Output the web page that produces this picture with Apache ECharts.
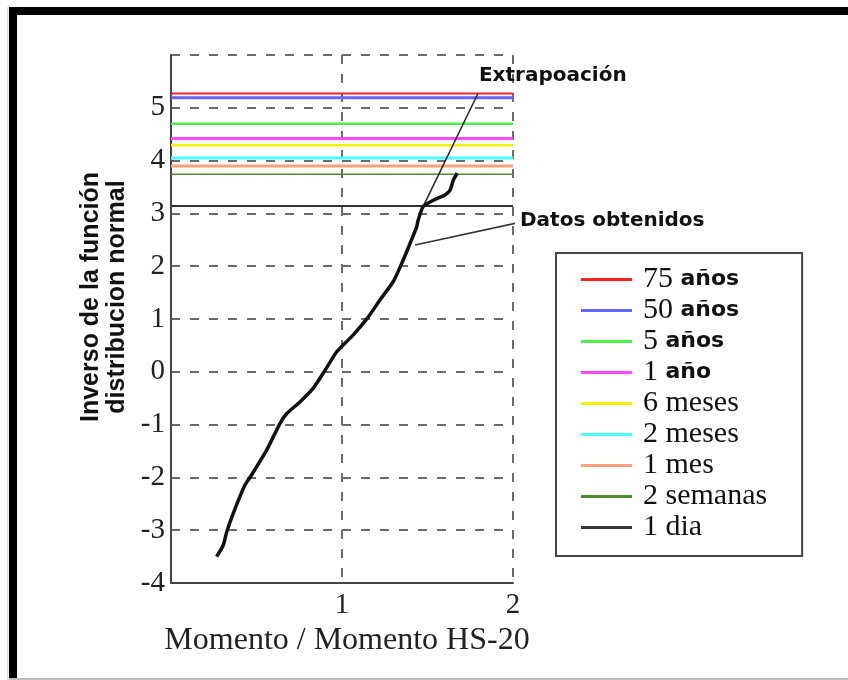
<!DOCTYPE html>
<html><head><meta charset="utf-8">
<script src="https://cdn.jsdelivr.net/npm/echarts@6/dist/echarts.min.js"></script>
<style>html,body{margin:0;padding:0;background:#fff}#c{width:848px;height:680px}</style>
</head><body><div id="c"></div>
<script>
// Horizontal return-period levels
const levelNames  = ['75 años','50 años','5 años','1 año','6 meses','2 meses','1 mes','2 semanas','1 dia'];
const levelValues = [5.27, 5.19, 4.70, 4.42, 4.29, 4.05, 3.90, 3.74, 3.14];
const levelColors = ['#ff2020','#6464ff','#4ced4c','#ff48ff','#f2f200','#48ffff','#ffa07a','#4f8a32','#333333'];
const levelWidths = [2, 3, 2.5, 3, 2.5, 3, 3, 1.5, 2];
const levelSpan   = [0, 2];

// Measured data (Momento / Momento HS-20 vs inverse normal)
const curveX = [0.267,0.306,0.326,0.364,0.433,0.472,0.560,0.637,0.677,0.754,0.832,0.901,0.969,1.066,1.154,1.222,1.300,1.349,1.398,1.437,1.446,1.475,1.534,1.602,1.632,1.651,1.674];
const curveY = [-3.50,-3.28,-3.03,-2.68,-2.14,-1.95,-1.48,-0.98,-0.79,-0.57,-0.31,0.03,0.38,0.70,1.04,1.36,1.71,2.05,2.43,2.75,2.88,3.13,3.25,3.35,3.44,3.63,3.76];

// Extrapolation line
const extrapX = [1.47, 1.795];
const extrapY = [3.10, 5.27];

// Annotation pointer to the data
const pointerX = [1.427, 2.372];
const pointerY = [2.40, 3.064];

const xMin = 0, xMax = 2, xStep = 1;
const yMin = -4, yMax = 6, yStep = 1;

const zip = (a, b) => a.map((v, i) => [v, b[i]]);

const serif = '"Liberation Serif", "Times New Roman", serif';
const sansBold = '"DejaVu Sans", sans-serif';

const series = levelNames.map((n, i) => ({
  name: n, type: 'line', showSymbol: false, silent: true, z: 3,
  color: levelColors[i],
  itemStyle: { color: levelColors[i] },
  lineStyle: { color: levelColors[i], width: levelWidths[i] },
  data: levelSpan.map(x => [x, levelValues[i]])
}));
series.push({
  name: 'Datos', type: 'line', showSymbol: false, silent: true, z: 5, smooth: 0.2,
  lineStyle: { color: '#111', width: 3.5 }, itemStyle: { color: '#111' },
  data: zip(curveX, curveY)
});
series.push({
  name: 'Extrapolación', type: 'line', showSymbol: false, silent: true, z: 4, clip: false,
  lineStyle: { color: '#222', width: 1.5 }, itemStyle: { color: '#222' },
  data: zip(extrapX, extrapY),
  endLabel: { show: true, formatter: 'Extrapoación', distance: 1, offset: [0, -18],
    fontFamily: sansBold, fontWeight: 'bold', fontSize: 20, color: '#111' }
});
series.push({
  name: 'Puntero', type: 'line', showSymbol: false, silent: true, z: 4, clip: false,
  lineStyle: { color: '#333', width: 1.5 }, itemStyle: { color: '#333' },
  data: zip(pointerX, pointerY),
  endLabel: { show: true, formatter: 'Datos obtenidos', distance: 5, offset: [0, -3],
    fontFamily: sansBold, fontWeight: 'bold', fontSize: 20, color: '#111' }
});

const chart = echarts.init(document.getElementById('c'), null, { renderer: 'canvas' });
chart.setOption({
  animation: false,
  backgroundColor: '#fff',
  grid: { left: 171, right: 335, top: 55, bottom: 97, containLabel: false },
  xAxis: {
    type: 'value', min: xMin, max: xMax, interval: xStep,
    axisLine: { show: true, onZero: false, lineStyle: { color: '#444', width: 2 } },
    axisTick: { show: false },
    axisLabel: { margin: 8, fontFamily: serif, fontSize: 29, color: '#222',
      formatter: v => (v >= 1 ? String(v) : '') },
    splitLine: { show: true, lineStyle: { color: '#6b6b6b', width: 2, type: [9, 10] } },
    name: 'Momento / Momento HS-20', nameLocation: 'middle', nameGap: 37,
    nameTextStyle: { fontFamily: serif, fontSize: 32, color: '#222', padding: [0, 0, 0, 10] }
  },
  yAxis: {
    type: 'value', min: yMin, max: yMax, interval: yStep,
    axisLine: { show: true, onZero: false, lineStyle: { color: '#444', width: 2 } },
    axisTick: { show: false },
    axisLabel: { margin: 6, fontFamily: serif, fontSize: 29, color: '#222',
      formatter: v => (v < yMax ? String(v) : '') },
    splitLine: { show: true, lineStyle: { color: '#6b6b6b', width: 2, type: [9, 10] } }
  },
  legend: {
    data: levelNames, orient: 'vertical', left: 556, top: 253,
    padding: [11, 35, 13, 25], itemGap: 0, itemWidth: 51, itemHeight: 3, itemTextGap: 10,
    icon: 'rect', selectedMode: false,
    borderColor: '#444', borderWidth: 2, backgroundColor: '#fff',
    textStyle: { fontFamily: serif, fontSize: 30, color: '#111', lineHeight: 31, padding: [0, 0, 0, 6],
      rich: {
        n: { fontFamily: serif, fontSize: 30, color: '#111', lineHeight: 31 },
        s: { fontFamily: sansBold, fontWeight: 'bold', fontSize: 22, color: '#111', lineHeight: 31 }
      } },
    formatter: name => {
      if (name.indexOf('añ') >= 0) {
        const p = name.split(' ');
        return '{n|' + p[0] + '} {s|' + p[1] + '}';
      }
      return name;
    }
  },
  graphic: [
    { type: 'text', x: 104, y: 297, rotation: Math.PI / 2, z: 10,
      style: { text: 'Inverso de la función\ndistribucion normal', fontFamily: '"Liberation Sans", Arial, sans-serif',
        fontWeight: 'bold', fontSize: 25, lineHeight: 26, fill: '#111', align: 'center', verticalAlign: 'middle' } },
    { type: 'rect', shape: { x: 9, y: 7, width: 839, height: 8 }, style: { fill: '#000' }, z: 20 },
    { type: 'rect', shape: { x: 9, y: 7, width: 8, height: 673 }, style: { fill: '#000' }, z: 20 },
    { type: 'rect', shape: { x: 7, y: 7, width: 1.5, height: 673 }, style: { fill: '#ddd' }, z: 20 },
    { type: 'rect', shape: { x: 9, y: 678, width: 839, height: 2 }, style: { fill: '#bbb' }, z: 20 }
  ],
  series: series
});
</script></body></html>
